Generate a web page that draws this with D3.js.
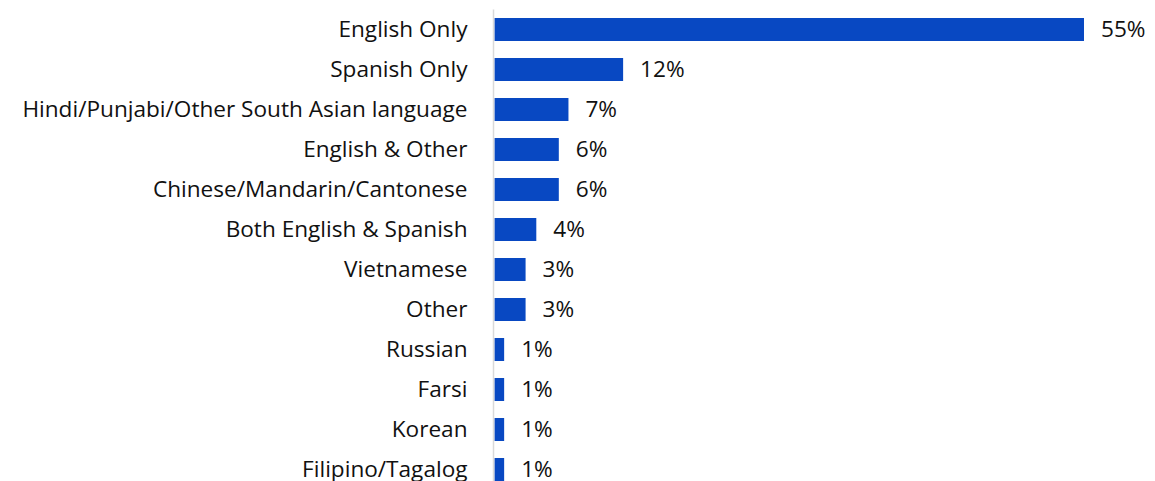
<!DOCTYPE html>
<html>
<head>
<meta charset="utf-8">
<script src="https://cdn.jsdelivr.net/npm/d3@7"></script>
<style>
  body { margin: 0; background: #fff; }
  text { font-family: "Open Sans", sans-serif; fill: #111; }
</style>
</head>
<body>
<div id="chart"></div>
<script>
const categories = [
    "English Only", "Spanish Only", "Hindi/Punjabi/Other South Asian language",
    "English & Other", "Chinese/Mandarin/Cantonese", "Both English & Spanish",
    "Vietnamese", "Other", "Russian", "Farsi", "Korean", "Filipino/Tagalog"
];
const values = [55, 12, 6.9, 6, 6, 3.9, 2.9, 2.9, 0.9, 0.9, 0.9, 0.9];

const W = 1155, H = 481;
const x0 = 494.5;
const fontSize = 22.6;

const svg = d3.select("#chart")
    .append("svg")
        .attr("width", W)
        .attr("height", H);

const x = d3.scaleLinear()
    .domain([0, 55])
    .range([x0, x0 + 589.5]);

const y = d3.scaleBand()
    .domain(categories)
    .range([9.5, 489.5])
    .paddingInner(0.425)
    .paddingOuter(0.2125);

const rows = categories.map((c, i) => ({cat: c, val: values[i]}));

// bars
svg.selectAll("rect.bar")
    .data(rows)
    .enter()
    .append("rect")
        .attr("class", "bar")
        .attr("x", x(0))
        .attr("y", d => y(d.cat))
        .attr("width", d => x(d.val) - x(0))
        .attr("height", y.bandwidth())
        .attr("fill", "#0848c2");

// category axis
const yAxis = svg.append("g")
    .attr("transform", `translate(${x0 - 1},0)`)
    .call(d3.axisLeft(y).tickSize(0).tickPadding(26));
yAxis.select(".domain")
    .attr("stroke", "#d9d9d9")
    .attr("stroke-width", 1.5)
    .attr("d", `M0,9.5V${H}`);
yAxis.selectAll("text")
    .style("font-size", fontSize + "px")
    .style("font-family", "'Open Sans', sans-serif")
    .attr("fill", "#111");

// value labels
svg.selectAll("text.val")
    .data(rows)
    .enter()
    .append("text")
        .attr("class", "val")
        .attr("x", d => x(d.val) + 17)
        .attr("y", d => y(d.cat) + y.bandwidth() / 2)
        .attr("dy", "0.35em")
        .style("font-size", fontSize + "px")
        .text(d => d3.format(".0f")(d.val) + "%");
</script>
</body>
</html>
